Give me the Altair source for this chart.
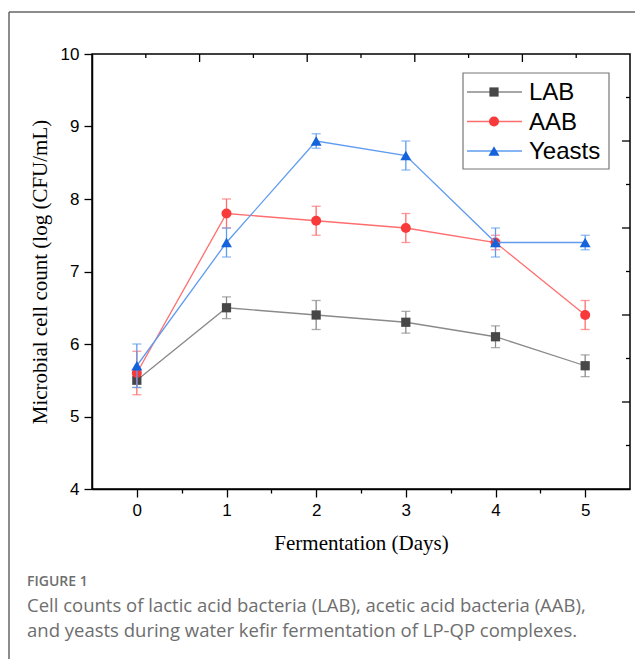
import altair as alt
import pandas as pd

days = [0, 1, 2, 3, 4, 5]
series = ["LAB", "AAB", "Yeasts"]
lab = [5.5, 6.5, 6.4, 6.3, 6.1, 5.7]
lab_err = [0.1, 0.15, 0.2, 0.15, 0.15, 0.15]
aab = [5.6, 7.8, 7.7, 7.6, 7.4, 6.4]
aab_err = [0.3, 0.2, 0.2, 0.2, 0.1, 0.2]
yeasts = [5.7, 7.4, 8.8, 8.6, 7.4, 7.4]
yeasts_err = [0.3, 0.2, 0.1, 0.2, 0.2, 0.1]

marker_colors = ["#474747", "#f93a3a", "#1463dc"]
line_colors = ["#8a8a8a", "#ff6e6e", "#5f9cf0"]
shapes = ["square", "circle", "triangle-up"]
sizes = [85, 100, 120]

x_ticks = [0, 0.5, 1, 1.5, 2, 2.5, 3, 3.5, 4, 4.5, 5]
y_ticks = [4, 4.5, 5, 5.5, 6, 6.5, 7, 7.5, 8, 8.5, 9, 9.5, 10]
top_ticks = [-0.5 + 0.6 * k for k in range(1, 10)]
right_ticks = [4 + 0.6 * k for k in range(1, 10)]

caption_head = "FIGURE 1"
caption_lines = [
    "Cell counts of lactic acid bacteria (LAB), acetic acid bacteria (AAB),",
    "and yeasts during water kefir fermentation of LP-QP complexes.",
]

W, H = 538, 435
xs = alt.Scale(domain=[-0.5, 5.5], nice=False, zero=False)
ys = alt.Scale(domain=[4, 10], nice=False, zero=False)

cond_size = {"condition": {"test": "datum.value % 1 === 0", "value": 8}, "value": 4}
lab_expr = "datum.value % 1 === 0 ? '' + datum.value : ''"

x_axis = alt.Axis(
    values=x_ticks, title="Fermentation (Days)", grid=False,
    labelExpr=lab_expr,
    tickSize=cond_size, tickColor="black", tickWidth=1.3,
    domainColor="black", domainWidth=1.5,
    labelFont="Liberation Sans", labelFontSize=17, labelColor="black", labelPadding=5,
    titleFont="Liberation Serif", titleFontSize=21, titleFontWeight="normal",
    titleColor="black", titlePadding=14,
)
y_axis = alt.Axis(
    values=y_ticks, title="Microbial cell count (log (CFU/mL)", grid=False,
    labelExpr=lab_expr,
    tickSize=cond_size, tickColor="black", tickWidth=1.3,
    domainColor="black", domainWidth=1.5,
    labelFont="Liberation Sans", labelFontSize=17, labelColor="black", labelPadding=5,
    titleFont="Liberation Serif", titleFontSize=21, titleFontWeight="normal",
    titleColor="black", titlePadding=10,
)

layers = []

base_df = pd.DataFrame({"day": days, "v": lab})
layers.append(
    alt.Chart(base_df).mark_point(opacity=0).encode(
        x=alt.X("day:Q", scale=xs, axis=x_axis),
        y=alt.Y("v:Q", scale=ys, axis=y_axis),
    )
)

top_df = pd.DataFrame({"t": top_ticks, "major": [k % 2 == 0 for k in range(1, 10)]})
for major, ln in [(True, 8), (False, 4)]:
    layers.append(
        alt.Chart(top_df[top_df.major == major]).mark_rule(color="black", strokeWidth=1.3).encode(
            x=alt.X("t:Q", scale=xs), y=alt.value(0), y2=alt.value(ln)
        )
    )
right_df = pd.DataFrame({"t": right_ticks, "major": [k % 2 == 0 for k in range(1, 10)]})
for major, ln in [(True, 8), (False, 4)]:
    layers.append(
        alt.Chart(right_df[right_df.major == major]).mark_rule(color="black", strokeWidth=1.3).encode(
            y=alt.Y("t:Q", scale=ys), x=alt.value(W), x2=alt.value(W - ln)
        )
    )

values = [lab, aab, yeasts]
errs = [lab_err, aab_err, yeasts_err]
for i, name in enumerate(series):
    df = pd.DataFrame({
        "day": days,
        "v": values[i],
        "lo": [a - b for a, b in zip(values[i], errs[i])],
        "hi": [a + b for a, b in zip(values[i], errs[i])],
    })
    c = alt.Chart(df)
    layers.append(c.mark_line(color=line_colors[i], strokeWidth=1.3).encode(
        x=alt.X("day:Q", scale=xs), y=alt.Y("v:Q", scale=ys)))
    layers.append(c.mark_rule(color=line_colors[i], strokeWidth=1.3).encode(
        x=alt.X("day:Q", scale=xs), y=alt.Y("lo:Q", scale=ys), y2="hi:Q"))
    for f in ["lo", "hi"]:
        layers.append(c.mark_tick(color=line_colors[i], orient="horizontal", size=9, thickness=1.3).encode(
            x=alt.X("day:Q", scale=xs), y=alt.Y(f + ":Q", scale=ys)))
    layers.append(c.mark_point(shape=shapes[i], size=sizes[i], filled=True, opacity=1,
                               color=marker_colors[i]).encode(
        x=alt.X("day:Q", scale=xs), y=alt.Y("v:Q", scale=ys)))

# legend (decoration, pixel positioned)
lx0 = 463 - 92
ly0 = 73 - 54
layers.append(
    alt.Chart(pd.DataFrame({"a": [0]})).mark_rect(fill="white", stroke="#777777", strokeWidth=1.2).encode(
        x=alt.value(lx0), x2=alt.value(609 - 92), y=alt.value(ly0), y2=alt.value(169 - 54)
    )
)
for i, name in enumerate(series):
    yy = 92 - 54 + 29.5 * i
    one = alt.Chart(pd.DataFrame({"name": [name]}))
    layers.append(one.mark_rule(color=line_colors[i], strokeWidth=1.3).encode(
        x=alt.value(467 - 92), x2=alt.value(522 - 92), y=alt.value(yy)))
    layers.append(one.mark_point(shape=shapes[i], size=sizes[i], filled=True, opacity=1,
                                 color=marker_colors[i]).encode(
        x=alt.value(494 - 92), y=alt.value(yy)))
    layers.append(one.mark_text(align="left", baseline="middle", font="Liberation Sans",
                                fontSize=24, color="black").encode(
        x=alt.value(529 - 92), y=alt.value(yy + 1), text="name:N"))

# figure frame
frame = alt.Chart(pd.DataFrame({"a": [0]}))
layers.append(frame.mark_rule(color="#666666", strokeWidth=1.5).encode(
    x=alt.value(9 - 92), y=alt.value(12 - 54), y2=alt.value(700)))
layers.append(frame.mark_rule(color="#666666", strokeWidth=1.5).encode(
    x=alt.value(9 - 92), x2=alt.value(700), y=alt.value(12 - 54)))

# caption
layers.append(
    alt.Chart(pd.DataFrame({"t": [caption_head]})).mark_text(
        align="left", baseline="middle", font="Open Sans", fontSize=14, fontWeight=600, color="#6e6e6e"
    ).encode(x=alt.value(27 - 92), y=alt.value(582 - 54), text="t:N")
)
for j, line in enumerate(caption_lines):
    layers.append(
        alt.Chart(pd.DataFrame({"t": [line]})).mark_text(
            align="left", baseline="middle", font="Open Sans", fontSize=18.5, color="#6e6e6e"
        ).encode(x=alt.value(27 - 92), y=alt.value(606 - 54 + 25 * j), text="t:N")
    )

chart = alt.layer(*layers).properties(
    width=W, height=H,
    autosize=alt.AutoSizeParams(type="none"),
    padding={"left": 84, "top": 46, "right": 5, "bottom": 170},
    background="white",
).configure_view(stroke="black", strokeWidth=1.5)

chart.save("out.html", embed_options={"renderer": "svg", "actions": False})
